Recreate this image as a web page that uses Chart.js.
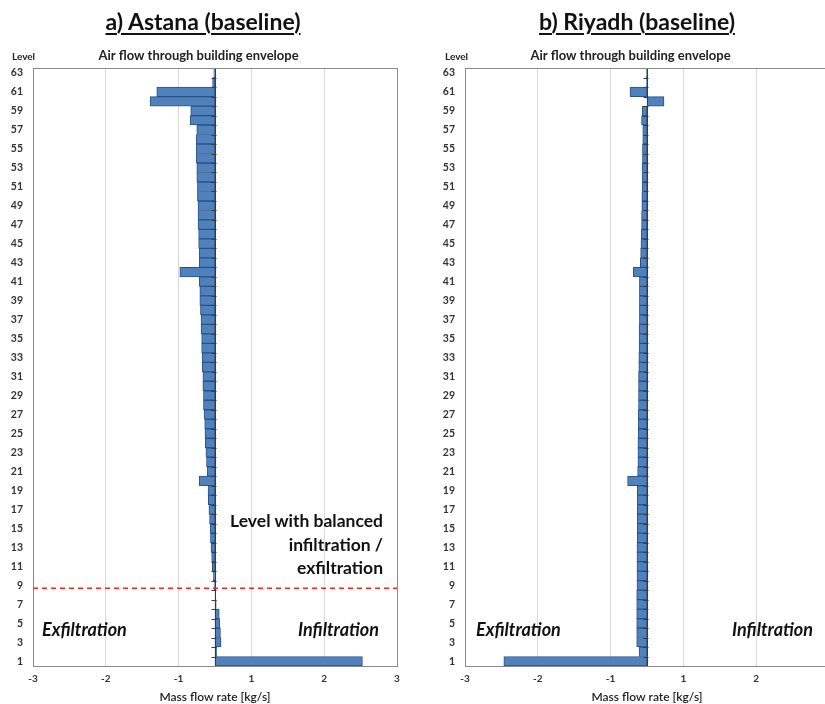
<!DOCTYPE html>
<html>
<head>
<meta charset="utf-8">
<script src="https://cdn.jsdelivr.net/npm/chart.js@4.4.1/dist/chart.umd.min.js"></script>
<style>
html,body{margin:0;padding:0;background:#fff;width:825px;height:704px;overflow:hidden;position:relative;}
canvas{position:absolute;top:0;}
.t{position:absolute;font-family:Lato,"Liberation Sans",sans-serif;color:#111;white-space:nowrap;}
.main{font-size:23px;font-weight:bold;text-decoration:underline;text-decoration-thickness:2px;text-underline-offset:3px;text-align:center;width:300px;top:6px;line-height:30px;}
.lvl{font-size:10px;font-weight:bold;top:50px;color:#222;}
.note{font-size:17.5px;font-weight:bold;line-height:23.5px;text-align:right;}
.side{font-size:18px;font-weight:bold;font-style:italic;line-height:22px;top:618px;}
</style>
</head>
<body>
<canvas id="c1" width="410" height="704" style="left:0px;width:410px;height:704px"></canvas>
<canvas id="c2" width="412" height="704" style="left:432px;width:412px;height:704px"></canvas>

<div class="t main" style="left:53px">a) Astana (baseline)</div>
<div class="t main" style="left:487px">b) Riyadh (baseline)</div>
<div class="t lvl" style="left:12px">Level</div>
<div class="t lvl" style="left:445px">Level</div>
<div class="t note" style="left:163px;width:220px;top:509px">Level with balanced<br>infiltration /<br>exfiltration</div>
<div class="t side" style="left:42px">Exfiltration</div>
<div class="t side" style="left:160px;width:219px;text-align:right">Infiltration</div>
<div class="t side" style="left:476px">Exfiltration</div>
<div class="t side" style="left:593px;width:220px;text-align:right">Infiltration</div>

<script>
// Building levels, top (63) to bottom (1)
const LEVELS = ['63','62','61','60','59','58','57','56','55','54','53','52','51','50','49','48','47','46','45','44','43','42','41','40','39','38','37','36','35','34','33','32','31','30','29','28','27','26','25','24','23','22','21','20','19','18','17','16','15','14','13','12','11','10','9','8','7','6','5','4','3','2','1'];

// Mass flow rate [kg/s] per level (same order as LEVELS)
const ASTANA = [-0.02,-0.04,-0.96,-1.07,-0.40,-0.41,-0.30,-0.31,-0.31,-0.31,-0.30,-0.30,-0.29,-0.29,-0.28,-0.28,-0.28,-0.27,-0.27,-0.26,-0.26,-0.58,-0.26,-0.25,-0.25,-0.24,-0.23,-0.23,-0.22,-0.22,-0.21,-0.21,-0.20,-0.20,-0.19,-0.19,-0.18,-0.17,-0.165,-0.16,-0.15,-0.14,-0.13,-0.26,-0.115,-0.11,-0.10,-0.09,-0.08,-0.075,-0.066,-0.055,-0.045,-0.03,-0.015,0.01,0.02,0.07,0.08,0.09,0.10,0.03,2.43];

const RIYADH = [-0.01,-0.01,-0.28,0.28,-0.08,-0.09,-0.07,-0.07,-0.075,-0.075,-0.08,-0.08,-0.08,-0.085,-0.085,-0.09,-0.09,-0.095,-0.10,-0.105,-0.11,-0.225,-0.125,-0.125,-0.125,-0.125,-0.125,-0.13,-0.13,-0.13,-0.135,-0.135,-0.14,-0.14,-0.14,-0.14,-0.145,-0.145,-0.145,-0.15,-0.15,-0.15,-0.155,-0.32,-0.16,-0.16,-0.16,-0.16,-0.16,-0.16,-0.165,-0.165,-0.165,-0.165,-0.165,-0.17,-0.17,-0.17,-0.17,-0.17,-0.17,-0.13,-2.36];

// x-axis tick positions and the labels printed there
const X_TICK_VALUES = [-3, -1.8, -0.6, 0.6, 1.8, 3];
const X_TICK_LABELS = ['-3', '-2', '-1', '1', '2', '3'];

// Level at which infiltration and exfiltration balance (Astana)
const BALANCE_LEVEL_ASTANA = 8.7;

const FONT = 'Lato, "Liberation Sans", sans-serif';

const decor = {
  id: 'decor',
  afterDatasetsDraw(chart, args, opts) {
    const {ctx, chartArea: a, scales: {x, y}} = chart;
    ctx.save();
    // zero axis with tick marks
    const x0 = Math.round(x.getPixelForValue(0)) + 0.5;
    ctx.strokeStyle = '#3a3a3a';
    ctx.lineWidth = 1;
    ctx.beginPath();
    ctx.moveTo(x0, a.top);
    ctx.lineTo(x0, a.bottom);
    const n = LEVELS.length;
    for (let i = 0; i <= n; i++) {
      const yy = Math.round(y.getPixelForValue(i - 0.5)) + 0.5;
      ctx.moveTo(x0 - 4, yy);
      ctx.lineTo(x0 + 1, yy);
    }
    ctx.stroke();
    // frame
    ctx.strokeStyle = '#8a8a8a';
    ctx.strokeRect(Math.round(a.left) + 0.5, Math.round(a.top) + 0.5, Math.round(a.right - a.left), Math.round(a.bottom - a.top));
    // balance line
    if (opts.balanceLevel != null) {
      const idx = LEVELS.length - opts.balanceLevel;
      const yy = y.getPixelForValue(idx);
      ctx.strokeStyle = '#ff2020';
      ctx.lineWidth = 1.6;
      ctx.setLineDash([5, 4]);
      ctx.beginPath();
      ctx.moveTo(a.left, yy);
      ctx.lineTo(a.right, yy);
      ctx.stroke();
    }
    ctx.restore();
  }
};

function makeChart(id, values, padRight, balanceLevel) {
  return new Chart(document.getElementById(id), {
    type: 'bar',
    data: {
      labels: LEVELS,
      datasets: [{
        data: values,
        backgroundColor: '#4f81bd',
        borderColor: '#2d5282',
        borderWidth: 1,
        borderSkipped: false,
        barPercentage: 1,
        categoryPercentage: 1
      }]
    },
    options: {
      indexAxis: 'y',
      responsive: false,
      animation: false,
      layout: {padding: {left: 0, right: padRight, top: 0, bottom: 0}},
      plugins: {
        legend: {display: false},
        tooltip: {enabled: false},
        title: {
          display: true,
          text: 'Air flow through building envelope',
          color: '#222',
          font: {family: FONT, size: 13, weight: 'bold'},
          padding: {top: 48, bottom: 4.5}
        },
        decor: {balanceLevel: balanceLevel}
      },
      scales: {
        x: {
          type: 'linear',
          min: -3,
          max: 3,
          afterBuildTicks(scale) { scale.ticks = X_TICK_VALUES.map(v => ({value: v})); },
          afterFit(scale) { scale.height = 38; },
          ticks: {
            autoSkip: false,
            maxRotation: 0,
            padding: 7,
            color: '#333',
            font: {family: FONT, size: 10, weight: 'bold'},
            callback: (v, i) => X_TICK_LABELS[i]
          },
          grid: {
            drawTicks: false,
            color: (c) => (c.index === 0 || c.index === X_TICK_VALUES.length - 1) ? 'rgba(0,0,0,0)' : '#d9d9d9'
          },
          border: {display: false},
          title: {
            display: true,
            text: 'Mass flow rate [kg/s]',
            color: '#222',
            font: {family: FONT, size: 12, weight: '600'},
            padding: {top: 0, bottom: 0}
          }
        },
        y: {
          type: 'category',
          afterFit(scale) { scale.width = 33; },
          ticks: {
            autoSkip: false,
            padding: 10,
            color: '#333',
            font: {family: FONT, size: 10.5, weight: 'bold'},
            callback: (v, i) => (Number(LEVELS[i]) % 2 === 1 ? LEVELS[i] : '')
          },
          grid: {display: false, drawTicks: false},
          border: {display: false}
        }
      }
    },
    plugins: [decor]
  });
}

makeChart('c1', ASTANA, 13, BALANCE_LEVEL_ASTANA);
makeChart('c2', RIYADH, 15, null);
</script>
</body>
</html>
